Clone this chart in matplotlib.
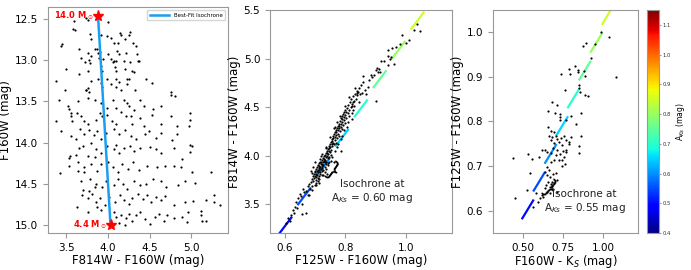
import numpy as np
import matplotlib
matplotlib.use("Agg")
import matplotlib.pyplot as plt
from matplotlib.colors import Normalize
from matplotlib.cm import ScalarMappable

# ---- data ----
# panel 1: CMD, F814W-F160W vs F160W
cmd_x = [3.59, 3.74, 3.76, 4.00, 3.58, 3.60,
         3.78, 3.91, 3.99, 4.04, 4.14, 4.16, 4.20, 4.25, 4.27, 4.12, 4.07, 4.30, 4.33, 3.45, 3.44, 3.80,
         3.65, 3.84, 3.87, 3.88, 3.90, 3.76, 3.80, 4.00, 4.11, 4.13, 4.22, 4.35, 3.68, 3.72, 3.77, 3.89, 3.94, 4.04, 4.06, 4.09, 4.26, 4.37,
         3.49, 3.65, 3.76, 3.78, 3.91, 3.93, 4.07, 4.08, 4.10, 4.19, 4.20, 4.29, 4.31, 4.36, 3.99, 4.09, 4.23, 4.45,
         3.38, 3.48, 3.79, 3.76, 3.73, 3.88, 3.92, 3.93, 4.03, 4.09, 4.13, 4.16, 4.23, 4.53, 4.32, 4.25, 3.74, 3.77,
         3.41, 3.52, 3.53, 3.64, 3.76, 3.84, 3.91, 3.99, 4.06, 4.09, 4.19, 4.25, 4.31, 4.43, 4.54, 4.64, 4.81, 4.75, 4.75, 4.38, 4.23,
         3.37, 3.56, 3.55, 3.57, 3.63, 3.67, 3.71, 3.76, 3.85, 3.90, 3.93, 3.99, 4.05, 4.09, 4.15, 4.21, 4.28, 4.29, 4.38, 4.53, 4.64, 4.75, 4.98, 4.98, 4.97, 4.83, 4.43,
         3.44, 3.66, 3.71, 3.77, 3.83, 3.87, 3.91, 3.98, 4.07, 4.13, 4.20, 4.28, 4.33, 4.44, 4.49, 4.58, 4.63, 4.77, 4.83, 3.62, 3.56,
         3.65, 3.70, 3.79, 3.85, 3.91, 3.99, 4.07, 4.10, 4.13, 4.19, 4.27, 4.31, 4.38, 4.50, 4.57, 4.63, 4.79, 4.98, 5.01, 4.98, 3.54, 3.53, 3.61, 3.76, 3.84,
         3.42, 3.53, 3.64, 3.71, 3.80, 3.87, 3.91, 4.00, 4.06, 4.12, 4.17, 4.24, 4.30, 4.37, 4.47, 4.59, 4.68, 4.79, 4.87, 4.89, 5.01, 5.23, 3.71, 3.64,
         3.67, 3.78, 3.86, 3.93, 3.98, 4.07, 4.12, 4.18, 4.23, 4.31, 4.38, 4.46, 4.54, 4.64, 4.69, 4.84, 4.93, 5.05, 3.70, 3.77, 3.84,
         3.69, 3.76, 3.81, 3.85, 3.90, 3.96, 4.01, 4.08, 4.14, 4.19, 4.25, 4.29, 4.36, 4.42, 4.47, 4.52, 4.57, 4.63, 4.68, 4.79, 4.92, 5.02, 5.17, 5.27, 5.27, 5.35, 3.63, 3.87,
         3.76, 3.91, 4.07, 4.10, 4.16, 4.21, 4.25, 4.29, 4.33, 4.38, 4.44, 4.50, 4.56, 4.61, 4.71, 4.79, 4.89, 4.96, 5.12, 5.13, 5.17, 5.11, 4.03, 4.13, 4.20, 4.67, 4.95]
cmd_y = [12.52, 12.49, 12.51, 12.54, 12.62, 12.64,
         12.68, 12.70, 12.71, 12.73, 12.67, 12.70, 12.74, 12.69, 12.66, 12.79, 12.79, 12.79, 12.83, 12.80, 12.83, 12.75,
         12.87, 12.86, 12.87, 12.91, 12.90, 12.91, 12.95, 12.92, 12.89, 12.93, 12.91, 12.93, 12.98, 13.02, 13.00, 12.98, 12.99, 12.99, 13.02, 13.01, 13.02, 13.01,
         13.11, 13.17, 13.13, 13.03, 13.07, 13.13, 13.01, 13.08, 13.13, 13.01, 13.11, 13.13, 13.15, 13.01, 13.23, 13.23, 13.23, 13.23,
         13.25, 13.36, 13.25, 13.34, 13.36, 13.23, 13.28, 13.32, 13.29, 13.32, 13.27, 13.36, 13.29, 13.28, 13.36, 13.23, 13.36, 13.39,
         13.48, 13.56, 13.59, 13.49, 13.46, 13.48, 13.52, 13.58, 13.48, 13.58, 13.48, 13.56, 13.60, 13.56, 13.59, 13.56, 13.44, 13.42, 13.39, 13.48, 13.52,
         13.74, 13.64, 13.68, 13.74, 13.64, 13.68, 13.74, 13.78, 13.72, 13.64, 13.68, 13.66, 13.74, 13.77, 13.63, 13.68, 13.68, 13.77, 13.70, 13.66, 13.77, 13.68, 13.64, 13.72, 13.80, 13.80, 13.80,
         13.86, 13.84, 13.89, 13.85, 13.91, 13.86, 13.96, 13.88, 13.84, 13.90, 13.85, 13.92, 13.96, 13.90, 13.86, 13.94, 13.88, 13.97, 13.90, 13.96, 13.92,
         14.06, 14.04, 14.00, 14.08, 14.13, 14.04, 14.08, 14.03, 14.13, 14.06, 14.04, 14.10, 14.07, 14.05, 14.08, 14.13, 14.06, 14.03, 14.04, 14.12, 14.16, 14.19, 14.15, 14.16, 14.18,
         14.37, 14.28, 14.24, 14.30, 14.26, 14.34, 14.26, 14.23, 14.30, 14.36, 14.26, 14.32, 14.24, 14.33, 14.28, 14.30, 14.28, 14.28, 14.30, 14.20, 14.36, 14.36, 14.36, 14.34,
         14.47, 14.44, 14.50, 14.54, 14.47, 14.52, 14.44, 14.50, 14.56, 14.46, 14.52, 14.50, 14.44, 14.47, 14.54, 14.52, 14.46, 14.49, 14.58, 14.59, 14.54,
         14.64, 14.67, 14.62, 14.72, 14.67, 14.76, 14.66, 14.72, 14.64, 14.70, 14.74, 14.67, 14.62, 14.68, 14.64, 14.72, 14.66, 14.70, 14.65, 14.76, 14.72, 14.71, 14.70, 14.64, 14.72, 14.76, 14.78, 14.78,
         14.84, 14.82, 14.84, 14.90, 14.88, 14.92, 14.86, 14.95, 14.88, 14.84, 14.93, 14.99, 14.90, 14.86, 14.88, 14.92, 14.90, 14.84, 14.88, 14.95, 14.95, 14.83, 14.96, 14.98, 15.00, 14.95, 14.96]

# best-fit isochrone endpoints in panel 1
iso_color = [3.88, 4.03]
iso_mag = [12.46, 15.00]
iso_mass = ["14.0", "4.4"]

# panel 2: F125W-F160W vs F814W-F160W
cc1_x = [0.606, 0.611, 0.617, 0.622, 0.628, 0.631, 0.634, 0.639, 0.642, 0.645, 0.650, 0.653, 0.658, 0.661, 0.665,
         0.671, 0.672, 0.676, 0.678, 0.680, 0.684, 0.687, 0.689, 0.657,
         0.691, 0.693, 0.695, 0.697, 0.698, 0.699, 0.700, 0.692,
         0.701, 0.702, 0.703, 0.704, 0.705, 0.706, 0.707, 0.708, 0.709, 0.710, 0.703, 0.709,
         0.711, 0.712, 0.713, 0.714, 0.715, 0.716, 0.717, 0.718, 0.719, 0.720, 0.712, 0.718, 0.716,
         0.721, 0.722, 0.723, 0.724, 0.725, 0.726, 0.727, 0.728, 0.729, 0.730, 0.723, 0.728, 0.725,
         0.731, 0.732, 0.733, 0.734, 0.735, 0.736, 0.737, 0.738, 0.739, 0.740, 0.734, 0.738, 0.736,
         0.741, 0.742, 0.743, 0.744, 0.745, 0.746, 0.747, 0.748, 0.749, 0.750, 0.745,
         0.751, 0.752, 0.753, 0.755, 0.756, 0.757, 0.758, 0.759, 0.760, 0.754,
         0.761, 0.762, 0.763, 0.765, 0.766, 0.767, 0.768, 0.769, 0.770, 0.764,
         0.771, 0.772, 0.773, 0.775, 0.776, 0.777, 0.778, 0.779, 0.780, 0.774,
         0.781, 0.782, 0.783, 0.785, 0.786, 0.787, 0.788, 0.789, 0.790,
         0.791, 0.792, 0.793, 0.795, 0.796, 0.797, 0.798, 0.799, 0.800,
         0.802, 0.804, 0.806, 0.808, 0.810, 0.812, 0.814, 0.816, 0.818, 0.820,
         0.822, 0.824, 0.826, 0.828, 0.830, 0.833, 0.836, 0.838, 0.840, 0.821, 0.827, 0.838,
         0.843, 0.846, 0.849, 0.852, 0.855, 0.860, 0.865, 0.874, 0.878,
         0.885, 0.889, 0.894, 0.900, 0.905, 0.909, 0.911, 0.917, 0.902,
         0.940, 0.942, 0.946, 0.950, 0.960, 0.942, 0.953, 0.966, 0.980, 0.999, 1.010, 0.988, 1.027, 1.038, 1.047,
         # wider scatter around the ridge
         0.688, 0.694, 0.700, 0.705, 0.713, 0.720, 0.727, 0.735, 0.742, 0.750, 0.758, 0.766, 0.773, 0.782, 0.790,
         0.798, 0.806, 0.814, 0.822, 0.832, 0.845, 0.858, 0.700, 0.710, 0.722, 0.732, 0.744, 0.754, 0.765, 0.776,
         0.787, 0.797, 0.810, 0.823, 0.680, 0.690, 0.715, 0.740, 0.762, 0.785, 0.870, 0.928, 0.915]
cc1_y = [3.31, 3.36, 3.33, 3.39, 3.44, 3.41, 3.47, 3.52, 3.46, 3.56, 3.61, 3.58, 3.50, 3.66, 3.63,
         3.41, 3.64, 3.60, 3.69, 3.71, 3.66, 3.73, 3.69, 3.40,
         3.76, 3.79, 3.74, 3.81, 3.77, 3.84, 3.79, 3.82,
         3.83, 3.78, 3.86, 3.81, 3.75, 3.84, 3.88, 3.80, 3.85, 3.90, 3.72, 3.77,
         3.83, 3.87, 3.92, 3.85, 3.89, 3.81, 3.94, 3.88, 3.91, 3.86, 3.79, 3.83, 3.97,
         3.93, 3.89, 3.96, 3.91, 3.87, 3.98, 3.94, 3.90, 4.00, 3.95, 3.84, 3.85, 4.02,
         3.97, 3.93, 4.01, 3.96, 3.91, 4.03, 3.99, 3.94, 4.05, 4.00, 3.88, 4.08, 3.86,
         4.03, 3.98, 4.07, 4.02, 4.10, 4.05, 3.99, 4.08, 4.12, 4.04, 3.93,
         4.09, 4.14, 4.06, 4.12, 4.17, 4.10, 4.15, 4.20, 4.13, 4.01,
         4.18, 4.12, 4.22, 4.16, 4.24, 4.19, 4.13, 4.26, 4.21, 4.28,
         4.24, 4.18, 4.28, 4.22, 4.31, 4.26, 4.20, 4.33, 4.28, 4.35,
         4.31, 4.25, 4.36, 4.30, 4.39, 4.33, 4.27, 4.41, 4.35,
         4.38, 4.32, 4.43, 4.37, 4.45, 4.40, 4.34, 4.47, 4.42,
         4.45, 4.39, 4.49, 4.44, 4.52, 4.47, 4.41, 4.55, 4.50, 4.58,
         4.53, 4.47, 4.61, 4.56, 4.51, 4.63, 4.58, 4.67, 4.62, 4.51, 4.55, 4.65,
         4.66, 4.70, 4.64, 4.73, 4.65, 4.76, 4.68, 4.71, 4.78,
         4.83, 4.81, 4.83, 4.88, 4.90, 4.86, 4.89, 4.97, 4.56,
         5.03, 4.93, 5.00, 5.02, 4.94, 5.09, 5.11, 5.12, 5.15, 5.16, 5.19, 5.24, 5.29, 5.36, 5.28,
         3.84, 3.88, 3.93, 3.70, 3.76, 4.00, 3.80, 4.09, 3.90, 4.19, 3.99, 4.30, 4.09, 4.41, 4.20,
         4.51, 4.30, 4.60, 4.38, 4.70, 4.55, 4.82, 3.70, 3.74, 3.80, 3.83, 3.92, 3.95, 4.05, 4.12,
         4.17, 4.26, 4.35, 4.44, 3.60, 3.65, 3.72, 3.81, 3.93, 4.05, 4.64, 4.97, 4.86]

# panel 3: F160W-Ks vs F125W-F160W
cc2_x = [0.985, 1.040, 0.949, 0.891, 0.874, 0.923, 0.827, 0.784, 0.846, 0.846, 0.878, 0.737, 0.793, 0.889, 1.083,
         0.848, 0.848, 0.763, 0.857, 0.885, 0.906, 0.682, 0.710, 0.863, 0.656, 0.697, 0.731, 0.731, 0.731, 0.767, 0.801,
         0.656, 0.671, 0.692, 0.660, 0.681, 0.703, 0.714, 0.735, 0.756, 0.771, 0.784, 0.799, 0.831, 0.863, 0.848, 0.848,
         0.788, 0.671, 0.692, 0.724, 0.746, 0.436, 0.532, 0.553, 0.600, 0.617, 0.635, 0.650, 0.677, 0.686, 0.703, 0.714,
         0.729, 0.750, 0.767, 0.771, 0.756, 0.742, 0.763, 0.746, 0.724, 0.692, 0.671, 0.650, 0.660, 0.639, 0.650, 0.665,
         0.686, 0.703, 0.714, 0.681, 0.714, 0.543, 0.521, 0.447, 0.579, 0.592, 0.564, 0.607, 0.617,
         0.643, 0.656, 0.667, 0.635, 0.650, 0.622, 0.675, 0.680, 0.685, 0.690, 0.670]
cc2_y = [1.000, 0.988, 0.973, 0.976, 0.970, 0.942, 0.924, 0.918, 0.916, 0.910, 0.913, 0.906, 0.905, 0.902, 0.900,
         0.881, 0.874, 0.870, 0.865, 0.859, 0.856, 0.844, 0.836, 0.819, 0.824, 0.818, 0.816, 0.809, 0.803, 0.804, 0.812,
         0.787, 0.779, 0.776, 0.768, 0.764, 0.768, 0.761, 0.763, 0.766, 0.757, 0.753, 0.764, 0.793, 0.768, 0.744, 0.729,
         0.750, 0.757, 0.751, 0.753, 0.746, 0.718, 0.726, 0.716, 0.720, 0.735, 0.736, 0.731, 0.729, 0.741, 0.724, 0.735,
         0.726, 0.733, 0.736, 0.731, 0.720, 0.713, 0.705, 0.699, 0.714, 0.714, 0.709, 0.698, 0.690, 0.687, 0.679, 0.676,
         0.683, 0.684, 0.668, 0.664, 0.642, 0.684, 0.647, 0.629, 0.640, 0.618, 0.607, 0.627, 0.635,
         0.657, 0.664, 0.653, 0.650, 0.642, 0.631, 0.660, 0.655, 0.648, 0.662, 0.640]

# isochrone shifted to several extinctions (intrinsic endpoints + reddening per mag of A_Ks)
a_ks = [0.50, 0.55, 0.60, 0.65, 0.70, 0.75, 0.80, 0.85]
c125_160 = [-0.040, 0.000]
c814_160 = [0.183, 0.348]
c160_ks = [-0.223, -0.155]
red_125_160 = 1.245
red_814_160 = 6.03
red_160_ks = 1.434

cmap = plt.get_cmap("jet")
norm = Normalize(vmin=0.4, vmax=1.15)
spine_c = "#999999"


def style(ax):
    for s in ax.spines.values():
        s.set_color(spine_c)
    ax.tick_params(colors=spine_c, labelcolor="black", labelsize=7.5, length=3.5)


fig = plt.figure(figsize=(6.91, 2.70), dpi=100)
ax1 = fig.add_axes([48 / 691, 37 / 270, 180 / 691, 226 / 270])
ax2 = fig.add_axes([270 / 691, 37 / 270, 182 / 691, 223 / 270])
ax3 = fig.add_axes([493 / 691, 37 / 270, 145 / 691, 223 / 270])
cax = fig.add_axes([647 / 691, 37 / 270, 12 / 691, 223 / 270])

# panel 1
ax1.scatter(cmd_x, cmd_y, s=2.5, c="black", linewidths=0)
ax1.plot(iso_color, iso_mag, color="#1a9ff0", lw=1.8, label="Best-Fit Isochrone", zorder=3)
ax1.plot(iso_color, iso_mag, ls="none", marker="*", ms=8, color="red", zorder=4)
for xc, ym, m in zip(iso_color, iso_mag, iso_mass):
    ax1.text(xc - 0.05, ym, m + r" M$_\odot$", color="red", fontsize=6, fontweight="bold",
             ha="right", va="center")
ax1.set_xlim(3.28, 5.44)
ax1.set_ylim(15.096, 12.356)
ax1.set_xticks([3.5, 4.0, 4.5, 5.0])
ax1.set_yticks([12.5, 13.0, 13.5, 14.0, 14.5, 15.0])
ax1.set_xlabel("F814W - F160W (mag)", fontsize=8.5, labelpad=1)
ax1.set_ylabel("F160W (mag)", fontsize=8.5, labelpad=2)
ax1.legend(loc="upper right", fontsize=4, handlelength=3.5, fancybox=False,
           edgecolor="#cccccc", borderpad=0.5)
style(ax1)

# panel 2
ax2.scatter(cc1_x, cc1_y, s=2.5, c="black", linewidths=0, zorder=2)
for a in a_ks:
    xs = [c + red_125_160 * a for c in c125_160]
    ys = [c + red_814_160 * a for c in c814_160]
    ax2.plot(xs, ys, color=cmap(norm(a)), lw=1.6, zorder=1)
ax2.text(0.755, 3.83, "}", fontsize=16, rotation=-35, ha="center", va="center")
ax2.text(0.889, 3.63, "Isochrone at\nA$_{Ks}$ = 0.60 mag", fontsize=7.5, ha="center",
         va="center", color="#222222")
ax2.set_xlim(0.552, 1.152)
ax2.set_ylim(3.204, 5.5)
ax2.set_xticks([0.6, 0.8, 1.0])
ax2.set_yticks([3.5, 4.0, 4.5, 5.0, 5.5])
ax2.set_xlabel("F125W - F160W (mag)", fontsize=8.5, labelpad=1)
ax2.set_ylabel("F814W - F160W (mag)", fontsize=8.5, labelpad=2)
style(ax2)

# panel 3
ax3.scatter(cc2_x, cc2_y, s=2.5, c="black", linewidths=0, zorder=2)
for a in a_ks:
    xs = [c + red_160_ks * a for c in c160_ks]
    ys = [c + red_125_160 * a for c in c125_160]
    ax3.plot(xs, ys, color=cmap(norm(a)), lw=1.6, zorder=1)
ax3.text(0.66, 0.648, "}", fontsize=15, rotation=-40, ha="center", va="center")
ax3.text(0.885, 0.618, "Isochrone at\nA$_{Ks}$ = 0.55 mag", fontsize=7.5, ha="center",
         va="center", color="#222222")
ax3.set_xlim(0.31, 1.22)
ax3.set_ylim(0.5496, 1.0496)
ax3.set_xticks([0.50, 0.75, 1.00])
ax3.set_xticklabels(["0.50", "0.75", "1.00"])
ax3.set_yticks([0.6, 0.7, 0.8, 0.9, 1.0])
ax3.set_xlabel("F160W - K$_S$ (mag)", fontsize=8.3, labelpad=0)
ax3.set_ylabel("F125W - F160W (mag)", fontsize=8.5, labelpad=2)
style(ax3)

# colorbar
cb = fig.colorbar(ScalarMappable(norm=norm, cmap=cmap), cax=cax)
cb.set_ticks([0.4, 0.5, 0.6, 0.7, 0.8, 0.9, 1.0, 1.1])
cb.ax.tick_params(labelsize=3.8, length=1.5, colors=spine_c, labelcolor="#333333", pad=1)
cb.outline.set_edgecolor(spine_c)
cb.set_label("A$_{Ks}$ (mag)", fontsize=5.5, labelpad=2)

fig.savefig("out.png", dpi=100)
